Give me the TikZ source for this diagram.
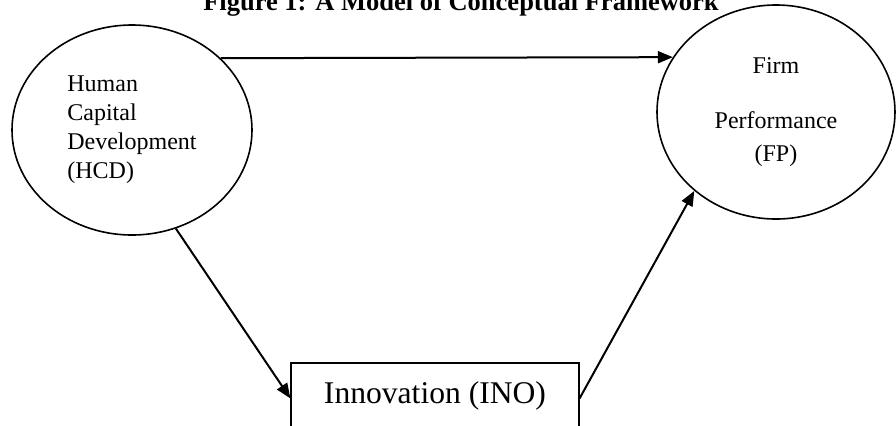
\documentclass[tikz,border=0pt]{standalone}
\usepackage{fontspec}
\setmainfont{Liberation Serif}
\usetikzlibrary{shapes.geometric,arrows.meta}

\begin{document}
\begin{tikzpicture}[x=0.5pt,y=-0.5pt,
    factor/.style={draw, ellipse, line width=0.8pt, inner sep=0pt,
      font=\fontsize{12}{14.5}\selectfont},
    link/.style={-{Triangle[length=7.5pt,width=6pt]}, line width=1pt}]
  % Page frame (the rectangle runs off the bottom edge)
  \path[use as bounding box, clip] (0,0) rectangle (896,425);

  % Title, cut at the top
  \node[anchor=base, font=\bfseries\fontsize{13.25}{16}\selectfont] (title) at (461,10)
    {Figure 1: A Model of Conceptual Framework};

  % Human capital development (left ellipse)
  \node[factor, minimum width=120pt, minimum height=105pt, align=left] (hcd) at (132,130)
    {Human\\Capital\\Development\\(HCD)};

  % Firm performance (right ellipse)
  \node[factor, minimum width=119pt, minimum height=107pt, align=center,
    font=\fontsize{12}{16.5}\selectfont] (fp) at (776,112)
    {Firm\\[11pt]Performance\\(FP)};

  % Innovation (box, open at the bottom)
  \node[draw, line width=0.6pt, inner sep=0pt, minimum width=144pt,
    text height=20pt, text depth=25pt, anchor=base,
    font=\fontsize{15.8}{19}\selectfont] (ino) at (435,403) {Innovation (INO)};

  % Paths
  \draw[link] (hcd.39) -- (fp.152);
  \draw[link] (hcd.-66) -- (ino.mid west);
  \draw[link] (ino.mid east) -- (fp.224);
\end{tikzpicture}
\end{document}
